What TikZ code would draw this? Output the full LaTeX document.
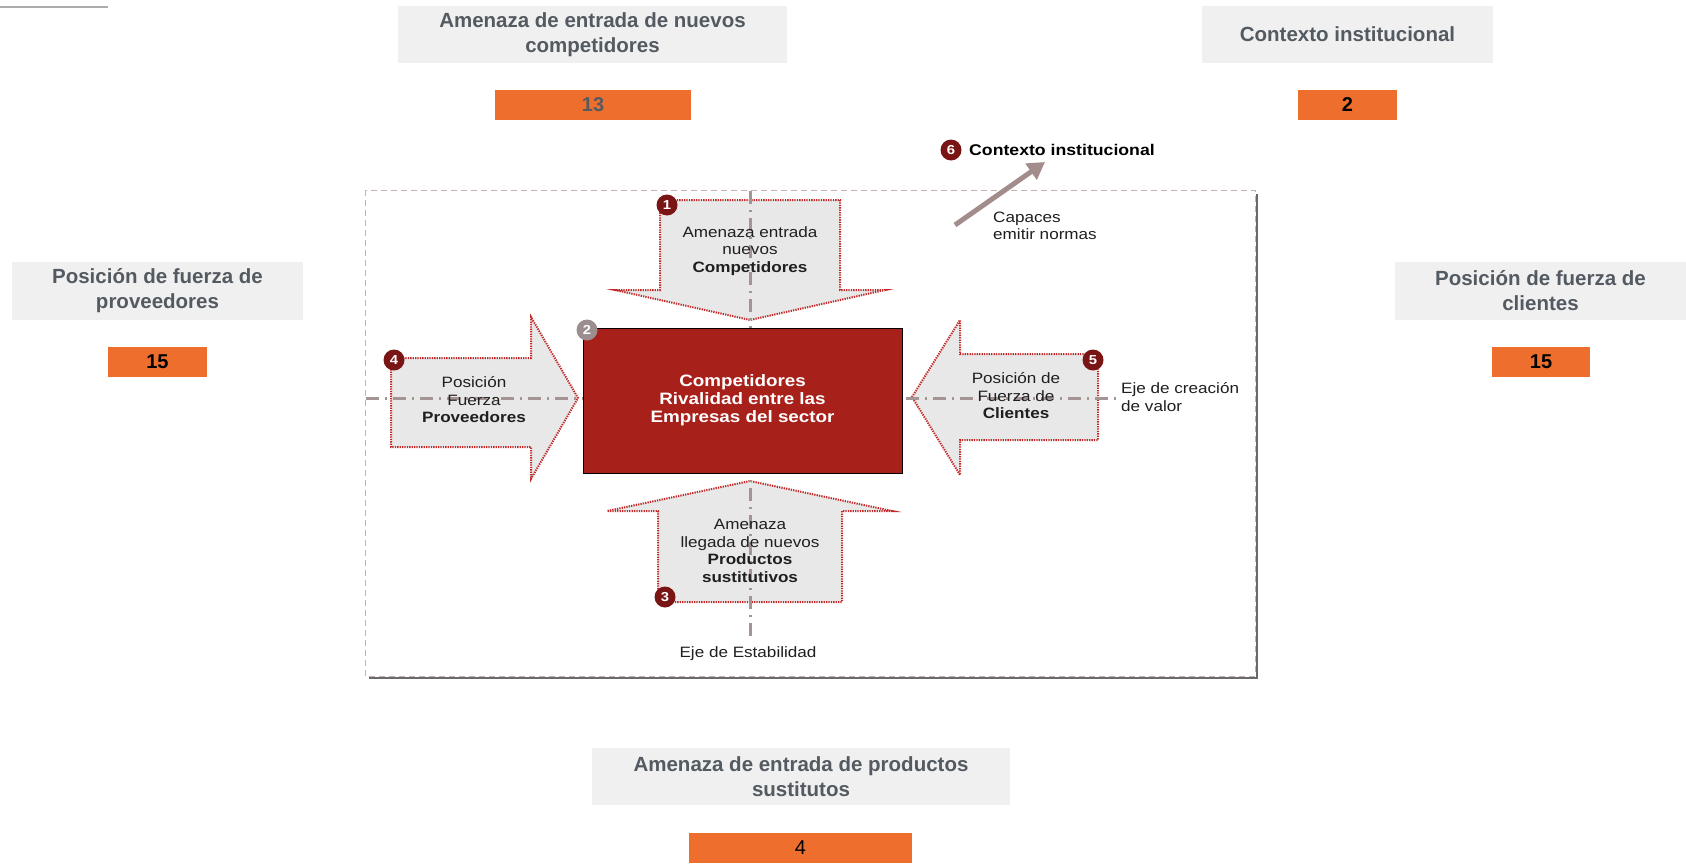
\documentclass[tikz,border=0pt]{standalone}
\usepackage{fontspec}
\setmainfont{Liberation Sans}
\newfontfamily\diagfont[FakeStretch=1.14]{Liberation Sans}
\usetikzlibrary{arrows.meta}

\definecolor{boxgray}{HTML}{F0F0F0}
\definecolor{boxtext}{HTML}{545A61}
\definecolor{orangebar}{HTML}{EE6F2D}
\definecolor{rivalred}{HTML}{A8201A}
\definecolor{badgered}{HTML}{7A1515}
\definecolor{badgegray}{HTML}{9C8E8E}
\definecolor{forcefill}{HTML}{E8E8E8}
\definecolor{forceedge}{HTML}{C22A2A}
\definecolor{axiscol}{HTML}{A49494}
\definecolor{framecol}{HTML}{C4B2B2}
\definecolor{shadowcol}{HTML}{6A6A6A}
\definecolor{pointercol}{HTML}{A38C8C}

\tikzset{
  graybox/.style={fill=boxgray, text=boxtext, align=center, inner sep=0pt,
    font=\bfseries\fontsize{20.5}{25}\selectfont},
  scorebar/.style={fill=orangebar, inner sep=0pt, minimum height=30pt,
    font=\bfseries\fontsize{20}{24}\selectfont},
  force/.style={fill=forcefill, draw=forceedge, line width=2pt,
    dash pattern=on 1.3pt off 1.1pt},
  axisline/.style={draw=axiscol, line width=3pt,
    dash pattern=on 13pt off 6pt on 2pt off 6pt},
  diagtext/.style={align=center, inner sep=0pt, text=black!88,
    font=\diagfont\fontsize{15}{17.5}\selectfont},
  badge/.style={circle, fill=badgered, text=white, inner sep=0pt,
    minimum size=21pt, font=\diagfont\bfseries\fontsize{13}{13}\selectfont},
  pointer/.style={draw=pointercol, line width=5pt,
    -{Triangle[length=17pt,width=19pt]}}
}

\begin{document}
\begin{tikzpicture}[x=1pt, y=-1pt]
  \useasboundingbox (0,0) rectangle (1686,867);
  \fill[white] (0,0) rectangle (1686,867);

  % short rule in the upper left corner
  \coordinate (ruleA) at (0,7);
  \coordinate (ruleB) at (108,7);
  \draw[gray!65, line width=2.5pt] (ruleA) -- (ruleB);

  % summary boxes with their scores
  \node[graybox, minimum width=389pt, minimum height=57pt] (newbox) at (592.5,34.5)
    {Amenaza de entrada de nuevos\\competidores};
  \node[scorebar, minimum width=196pt, text=boxtext] (newscore) at (593,105) {13};

  \node[graybox, minimum width=291pt, minimum height=57pt] (instbox) at (1347.5,34.5)
    {Contexto institucional};
  \node[scorebar, minimum width=99pt, text=black] (instscore) at (1347.5,105) {2};

  \node[graybox, minimum width=291pt, minimum height=58pt] (provbox) at (157.5,291)
    {Posición de fuerza de\\proveedores};
  \node[scorebar, minimum width=99pt, text=black] (provscore) at (157.5,362) {15};

  \node[graybox, minimum width=291pt, minimum height=58pt] (clibox) at (1540.5,291)
    {Posición de fuerza de\\clientes};
  \node[scorebar, minimum width=98pt, text=black] (cliscore) at (1541,362) {15};

  \node[graybox, minimum width=418pt, minimum height=57pt] (subbox) at (801,776.5)
    {Amenaza de entrada de productos\\sustitutos};
  \node[scorebar, minimum width=223pt, text=black,
    font=\fontsize{20}{24}\selectfont] (subscore) at (800.5,848) {4};

  % framed five forces diagram: shadow, then dashed frame
  \draw[shadowcol, line width=2.8pt] (1257,194) -- (1257,678) -- (369,678);
  \fill[white] (365,190) rectangle (1255,676);
  \draw[framecol, line width=1pt, dash pattern=on 6pt off 4pt]
    (365,190) rectangle (1255,676);

  % the four force arrows
  \draw[force] (660,200) -- (840,200) -- (840,290) -- (885,290) -- (750,320)
    -- (615,290) -- (660,290) -- cycle;
  \draw[force] (658,602) -- (842,602) -- (842,511) -- (892,511) -- (750,481)
    -- (607,511) -- (658,511) -- cycle;
  \draw[force] (391,358) -- (531,358) -- (531,317) -- (578,398) -- (531,479)
    -- (531,447) -- (391,447) -- cycle;
  \draw[force] (1098,354) -- (960,354) -- (960,320) -- (912,397) -- (960,475)
    -- (960,440) -- (1098,440) -- cycle;

  % axes
  \coordinate (stabTop) at (750,191);
  \coordinate (stabBot) at (750,640);
  \coordinate (valLeft) at (366,398);
  \coordinate (valRight) at (1119,398);
  \draw[axisline] (stabTop) -- (stabBot);
  \draw[axisline] (valLeft) -- (valRight);

  % central rivalry box
  \node[draw=black, line width=0.8pt, fill=rivalred, minimum width=319pt,
    minimum height=145pt, text=white, align=center,
    font=\diagfont\bfseries\fontsize{16.5}{18}\selectfont] (rival) at (742.5,400.5)
    {Competidores\\Rivalidad entre las\\Empresas del sector};

  % texts inside the arrows
  \node[diagtext] (entrants) at (750,251)
    {Amenaza entrada\\nuevos\\\textbf{Competidores}};
  \node[diagtext] (substitutes) at (750,551)
    {Amenaza\\llegada de nuevos\\\textbf{Productos}\\\textbf{sustitutivos}};
  \node[diagtext] (suppliers) at (474,400)
    {Posición\\Fuerza\\\textbf{Proveedores}};
  \node[diagtext] (customers) at (1016,396)
    {Posición de\\Fuerza de\\\textbf{Clientes}};

  % axis labels and notes
  \node[diagtext, align=left, anchor=west] (valaxis) at (1121,397)
    {Eje de creación\\de valor};
  \node[diagtext] (stabaxis) at (748,654) {Eje de Estabilidad};
  \node[diagtext, align=left, anchor=west] (norms) at (993,226)
    {Capaces\\emitir normas};
  \node[diagtext, anchor=west, text=black,
    font=\diagfont\bfseries\fontsize{15.5}{17}\selectfont] (institution) at (969,150)
    {Contexto institucional};

  % pointer towards the institutional context
  \coordinate (ptrStart) at (955,225);
  \coordinate (ptrEnd) at (1045,162);
  \draw[pointer] (ptrStart) -- (ptrEnd);

  % numbered badges
  \node[badge] (b1) at (667,205) {1};
  \node[badge, fill=badgegray] (b2) at (587,330) {2};
  \node[badge] (b3) at (665,597) {3};
  \node[badge] (b4) at (394,360) {4};
  \node[badge] (b5) at (1093,360) {5};
  \node[badge] (b6) at (951,150) {6};
\end{tikzpicture}
\end{document}
